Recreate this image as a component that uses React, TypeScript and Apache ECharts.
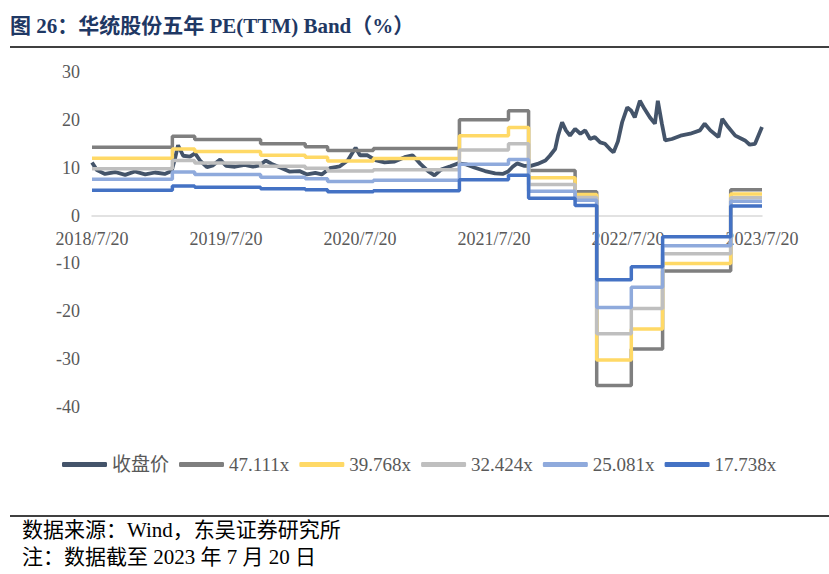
import React, { useEffect, useRef } from "react";
import * as echarts from "echarts";

// ---- data ----
const seriesNames = ["收盘价", "47.111x", "39.768x", "32.424x", "25.081x", "17.738x"];
const xTickLabels = ["2018/7/20", "2019/7/20", "2020/7/20", "2021/7/20", "2022/7/20", "2023/7/20"];

const price: [string, number][] = [
  ["2018/07/20", 11.1], ["2018/08/03", 9.5], ["2018/08/25", 8.7], ["2018/09/22", 9.1],
  ["2018/10/19", 8.5], ["2018/11/15", 9.2], ["2018/12/13", 8.6], ["2019/01/09", 9.0],
  ["2019/02/05", 8.7], ["2019/02/24", 9.3], ["2019/03/03", 12.0], ["2019/03/11", 14.7],
  ["2019/03/25", 12.5], ["2019/04/13", 12.3], ["2019/04/27", 13.0], ["2019/05/10", 11.5],
  ["2019/05/29", 10.1], ["2019/06/15", 10.5], ["2019/07/04", 11.7], ["2019/07/20", 10.4],
  ["2019/08/14", 10.2], ["2019/09/10", 10.6], ["2019/10/02", 10.2], ["2019/10/20", 10.5],
  ["2019/11/07", 11.5], ["2019/11/23", 10.8], ["2019/12/14", 10.1], ["2020/01/10", 9.2],
  ["2020/02/07", 9.3], ["2020/02/28", 8.6], ["2020/03/20", 8.9], ["2020/04/07", 8.6],
  ["2020/04/29", 9.9], ["2020/05/26", 10.3], ["2020/06/17", 11.5], ["2020/07/08", 14.2],
  ["2020/07/20", 12.6], ["2020/08/10", 12.6], ["2020/09/01", 11.6], ["2020/09/26", 11.1],
  ["2020/10/23", 11.3], ["2020/11/20", 12.2], ["2020/12/11", 12.6], ["2021/01/02", 10.8],
  ["2021/01/23", 9.3], ["2021/02/10", 8.4], ["2021/02/28", 9.6], ["2021/03/23", 10.3],
  ["2021/04/14", 10.9], ["2021/05/05", 10.7], ["2021/05/29", 10.0], ["2021/06/26", 9.3],
  ["2021/07/23", 8.8], ["2021/08/13", 8.7], ["2021/08/28", 9.2], ["2021/09/10", 10.2],
  ["2021/09/22", 10.9], ["2021/10/10", 10.4], ["2021/10/29", 10.4], ["2021/11/17", 10.8],
  ["2021/12/08", 11.5], ["2021/12/20", 12.5], ["2022/01/04", 13.9], ["2022/01/12", 16.7],
  ["2022/01/23", 19.5], ["2022/02/03", 17.8], ["2022/02/14", 16.7], ["2022/02/28", 18.1],
  ["2022/03/12", 17.1], ["2022/03/25", 17.8], ["2022/04/08", 16.0], ["2022/04/21", 16.4],
  ["2022/05/05", 15.3], ["2022/05/18", 15.0], ["2022/06/01", 13.9], ["2022/06/11", 13.2],
  ["2022/06/23", 15.5], ["2022/07/04", 19.5], ["2022/07/18", 22.6], ["2022/07/29", 21.9],
  ["2022/08/08", 20.5], ["2022/08/22", 24.0], ["2022/09/04", 22.3], ["2022/09/19", 20.5],
  ["2022/10/02", 19.2], ["2022/10/10", 24.0], ["2022/10/21", 19.2], ["2022/10/30", 15.7],
  ["2022/11/18", 16.0], ["2022/12/11", 16.7], ["2023/01/07", 17.1], ["2023/02/03", 17.8],
  ["2023/02/16", 19.2], ["2023/03/01", 17.8], ["2023/03/23", 16.4], ["2023/04/03", 20.2],
  ["2023/04/19", 18.5], ["2023/05/08", 16.7], ["2023/05/21", 16.2], ["2023/06/04", 15.7],
  ["2023/06/17", 14.8], ["2023/07/01", 15.0], ["2023/07/14", 17.4], ["2023/07/20", 18.5],
];

// dates where the PE band levels change (last entry = end of data)
const bandDates = [
  "2018/07/20", "2019/02/26", "2019/04/26", "2019/10/23", "2020/02/23", "2020/04/23",
  "2020/08/26", "2021/04/17", "2021/08/29", "2021/10/23", "2022/02/28", "2022/04/26",
  "2022/07/29", "2022/10/23", "2023/04/26", "2023/07/20",
];
const band47 = [14.3, 16.6, 15.9, 15.0, 14.4, 13.6, 14.0, 20.0, 21.9, 9.4, 5.0, -35.5, -27.9, -11.6, 5.4];
const band40 = [12.0, 13.9, 13.4, 12.6, 12.2, 11.4, 11.9, 16.7, 18.4, 7.9, 4.4, -30.2, -23.7, -10.0, 4.5];
const band32 = [9.8, 11.5, 11.0, 10.3, 9.9, 9.3, 9.6, 13.7, 15.0, 6.5, 3.8, -24.7, -19.4, -8.0, 3.7];
const band25 = [7.6, 9.1, 8.6, 8.0, 7.7, 7.1, 7.4, 10.7, 11.7, 5.1, 3.2, -19.2, -15.0, -6.3, 3.0];
const band18 = [5.3, 6.2, 5.9, 5.6, 5.4, 5.0, 5.2, 7.5, 8.4, 3.6, 2.1, -13.4, -10.7, -4.4, 2.0];

const colors = ["#44546A", "#7F7F7F", "#FFD966", "#BFBFBF", "#8FAADC", "#4472C4"];

// months since 2018/07/20
function toM(s: string): number {
  const [y, mo, d] = s.split("/").map(Number);
  return (y - 2018) * 12 + (mo - 7) + (d - 20) / 30.44;
}

function bandData(vals: number[]) {
  return bandDates.map((d, i) => [toM(d), vals[Math.min(i, vals.length - 1)]]);
}

const SERIF = '"Liberation Serif", "Times New Roman", "Noto Sans CJK SC", serif';

const GRID_TOP = 72;
const GRID_BOTTOM_PX = 407;
const Y_MIN = -40;
const Y_MAX = 30;
// pixel shift that puts the x axis at y = 0
const zeroOffset = -((GRID_BOTTOM_PX - GRID_TOP) * (0 - Y_MIN)) / (Y_MAX - Y_MIN);

export default function App() {
  const ref = useRef<HTMLDivElement>(null);
  useEffect(() => {
    if (!ref.current) return;
    const chart = echarts.init(ref.current, null, { renderer: "svg" });
    const bands = [band47, band40, band32, band25, band18];
    chart.setOption({
      animation: false,
      backgroundColor: "#ffffff",
      color: colors,
      grid: { left: 92, right: 67, top: GRID_TOP, bottom: 574 - GRID_BOTTOM_PX, containLabel: false },
      xAxis: {
        type: "value",
        min: 0,
        max: 60,
        interval: 12,
        offset: zeroOffset,
        axisLine: { onZero: false, lineStyle: { color: "#D9D9D9", width: 1.5 } },
        axisTick: { show: false },
        splitLine: { show: false },
        axisLabel: {
          margin: 14,
          color: "#595959",
          fontFamily: SERIF,
          fontSize: 18,
          formatter: (v: number) => xTickLabels[Math.round(v / 12)] ?? "",
        },
      },
      yAxis: {
        type: "value",
        min: Y_MIN,
        max: Y_MAX,
        interval: 10,
        axisLine: { show: false, onZero: false },
        axisTick: { show: false },
        splitLine: { show: false },
        axisLabel: { margin: 12, color: "#595959", fontFamily: SERIF, fontSize: 18 },
      },
      legend: {
        left: 62,
        top: 455,
        padding: 0,
        itemWidth: 45,
        itemHeight: 5,
        itemGap: 10,
        icon: "roundRect",
        data: seriesNames,
        textStyle: { color: "#595959", fontFamily: SERIF, fontSize: 19 },
      },
      series: [
        {
          name: seriesNames[0],
          type: "line",
          symbol: "none",
          data: price.map(([d, v]) => [toM(d), v]),
          lineStyle: { width: 3.8, color: colors[0] },
          itemStyle: { color: colors[0] },
        },
        ...bands.map((b, i) => ({
          name: seriesNames[i + 1],
          type: "line",
          symbol: "none",
          step: "end",
          data: bandData(b),
          lineStyle: { width: 3.5, color: colors[i + 1] },
          itemStyle: { color: colors[i + 1] },
        })),
      ],
      graphic: [
        {
          type: "text",
          left: 10,
          top: 15,
          style: {
            text: "图 26：华统股份五年 PE(TTM) Band（%）",
            fill: "#1F3864",
            fontSize: 21,
            fontWeight: "bold",
            fontFamily: SERIF,
          },
        },
        {
          type: "line",
          shape: { x1: 10, y1: 47, x2: 829, y2: 47 },
          style: { stroke: "#000000", lineWidth: 1.5 },
        },
        {
          type: "line",
          shape: { x1: 10, y1: 516, x2: 829, y2: 516 },
          style: { stroke: "#000000", lineWidth: 1.5 },
        },
        {
          type: "text",
          left: 22,
          top: 519,
          style: {
            text: "数据来源：Wind，东吴证券研究所",
            fill: "#000000",
            fontSize: 21,
            fontFamily: SERIF,
          },
        },
        {
          type: "text",
          left: 22,
          top: 546,
          style: {
            text: "注：数据截至 2023 年 7 月 20 日",
            fill: "#000000",
            fontSize: 21,
            fontFamily: SERIF,
          },
        },
      ],
    });
    return () => chart.dispose();
  }, []);
  return (
    <div
      ref={ref}
      style={{ position: "absolute", left: 0, top: 0, width: 829, height: 574 }}
    />
  );
}
